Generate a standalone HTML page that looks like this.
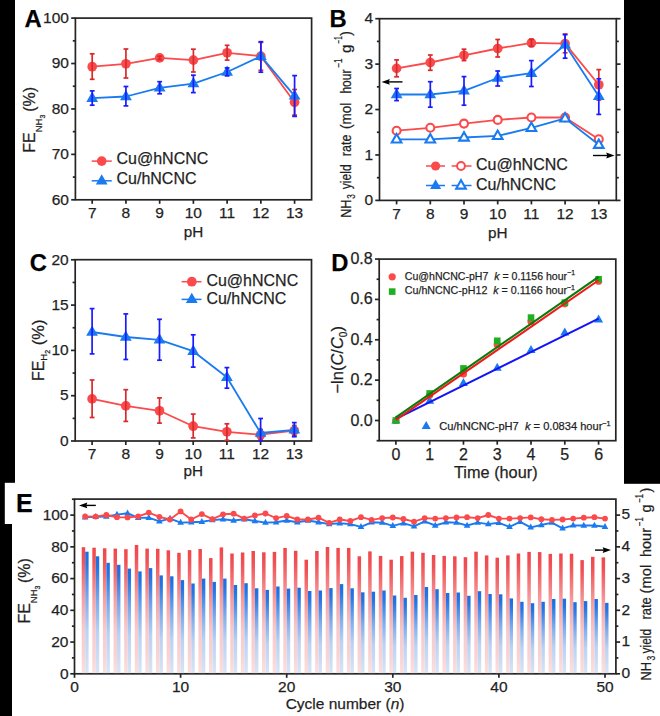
<!DOCTYPE html>
<html><head><meta charset="utf-8"><title>Figure</title>
<style>
html,body{margin:0;padding:0;background:#fff;}
body{width:660px;height:716px;overflow:hidden;}
svg{display:block;font-family:"Liberation Sans", sans-serif;}
svg text{stroke:#1f1f1f;stroke-width:0.25px;}
</style></head><body>
<svg width="660" height="716" viewBox="0 0 660 716">
<rect x="0" y="0" width="660" height="716" fill="#ffffff"/>
<rect x="0" y="0" width="15" height="482.8" fill="#000"/>
<rect x="0" y="482" width="4.8" height="43" fill="#000"/>
<rect x="0" y="524" width="12" height="193" fill="#000"/>
<rect x="624" y="0" width="36" height="483.8" fill="#000"/>
<g>
<rect x="75.4" y="18.1" width="236.2" height="181.7" fill="none" stroke="#242424" stroke-width="1.7"/>
<line x1="71.2" y1="199.8" x2="75.4" y2="199.8" stroke="#242424" stroke-width="1.7" />
<text x="68.9" y="204.5" font-size="15.5" text-anchor="end" font-weight="normal" fill="#1f1f1f" >60</text>
<line x1="71.2" y1="154.38" x2="75.4" y2="154.38" stroke="#242424" stroke-width="1.7" />
<text x="68.9" y="159.07" font-size="15.5" text-anchor="end" font-weight="normal" fill="#1f1f1f" >70</text>
<line x1="71.2" y1="108.95" x2="75.4" y2="108.95" stroke="#242424" stroke-width="1.7" />
<text x="68.9" y="113.65" font-size="15.5" text-anchor="end" font-weight="normal" fill="#1f1f1f" >80</text>
<line x1="71.2" y1="63.52" x2="75.4" y2="63.52" stroke="#242424" stroke-width="1.7" />
<text x="68.9" y="68.22" font-size="15.5" text-anchor="end" font-weight="normal" fill="#1f1f1f" >90</text>
<line x1="71.2" y1="18.1" x2="75.4" y2="18.1" stroke="#242424" stroke-width="1.7" />
<text x="68.9" y="22.8" font-size="15.5" text-anchor="end" font-weight="normal" fill="#1f1f1f" >100</text>
<line x1="72.8" y1="177.09" x2="75.4" y2="177.09" stroke="#242424" stroke-width="1.7" />
<line x1="72.8" y1="131.66" x2="75.4" y2="131.66" stroke="#242424" stroke-width="1.7" />
<line x1="72.8" y1="86.24" x2="75.4" y2="86.24" stroke="#242424" stroke-width="1.7" />
<line x1="72.8" y1="40.81" x2="75.4" y2="40.81" stroke="#242424" stroke-width="1.7" />
<line x1="92.2" y1="199.8" x2="92.2" y2="203.8" stroke="#242424" stroke-width="1.7" />
<text x="92.2" y="218" font-size="15.5" text-anchor="middle" font-weight="normal" fill="#1f1f1f" >7</text>
<line x1="125.93" y1="199.8" x2="125.93" y2="203.8" stroke="#242424" stroke-width="1.7" />
<text x="125.93" y="218" font-size="15.5" text-anchor="middle" font-weight="normal" fill="#1f1f1f" >8</text>
<line x1="159.66" y1="199.8" x2="159.66" y2="203.8" stroke="#242424" stroke-width="1.7" />
<text x="159.66" y="218" font-size="15.5" text-anchor="middle" font-weight="normal" fill="#1f1f1f" >9</text>
<line x1="193.39" y1="199.8" x2="193.39" y2="203.8" stroke="#242424" stroke-width="1.7" />
<text x="193.39" y="218" font-size="15.5" text-anchor="middle" font-weight="normal" fill="#1f1f1f" >10</text>
<line x1="227.12" y1="199.8" x2="227.12" y2="203.8" stroke="#242424" stroke-width="1.7" />
<text x="227.12" y="218" font-size="15.5" text-anchor="middle" font-weight="normal" fill="#1f1f1f" >11</text>
<line x1="260.85" y1="199.8" x2="260.85" y2="203.8" stroke="#242424" stroke-width="1.7" />
<text x="260.85" y="218" font-size="15.5" text-anchor="middle" font-weight="normal" fill="#1f1f1f" >12</text>
<line x1="294.58" y1="199.8" x2="294.58" y2="203.8" stroke="#242424" stroke-width="1.7" />
<text x="294.58" y="218" font-size="15.5" text-anchor="middle" font-weight="normal" fill="#1f1f1f" >13</text>
<text x="193.5" y="237" font-size="15.3" text-anchor="middle" font-weight="normal" fill="#1f1f1f" >pH</text>
<text x="24.6" y="27" font-size="23.8" text-anchor="start" font-weight="bold" fill="#000" >A</text>
<text transform="translate(35.3,152.8) rotate(-90)" font-size="16" fill="#1f1f1f">FE<tspan font-size="9.5" dy="6.8">NH<tspan font-size="7" dy="3">3</tspan></tspan><tspan dy="-9.8" dx="-1.5" font-size="16"> (%)</tspan></text>
<polyline points="92.2,66.7 125.93,63.8 159.66,57.9 193.39,60.1 227.12,52.8 260.85,56.2 294.58,102.3" fill="none" stroke="#fb4a4c" stroke-width="1.8" stroke-linejoin="round"/>
<circle cx="92.2" cy="66.7" r="4.85" fill="#fb4a4c"/>
<line x1="92.2" y1="53.8" x2="92.2" y2="79.3" stroke="#d62a2c" stroke-width="1.7" />
<line x1="89.8" y1="53.8" x2="94.6" y2="53.8" stroke="#d62a2c" stroke-width="1.7" />
<line x1="89.8" y1="79.3" x2="94.6" y2="79.3" stroke="#d62a2c" stroke-width="1.7" />
<circle cx="125.93" cy="63.8" r="4.85" fill="#fb4a4c"/>
<line x1="125.93" y1="49" x2="125.93" y2="78" stroke="#d62a2c" stroke-width="1.7" />
<line x1="123.53" y1="49" x2="128.33" y2="49" stroke="#d62a2c" stroke-width="1.7" />
<line x1="123.53" y1="78" x2="128.33" y2="78" stroke="#d62a2c" stroke-width="1.7" />
<circle cx="159.66" cy="57.9" r="4.85" fill="#fb4a4c"/>
<line x1="159.66" y1="56.2" x2="159.66" y2="59.6" stroke="#d62a2c" stroke-width="1.7" />
<line x1="157.26" y1="56.2" x2="162.06" y2="56.2" stroke="#d62a2c" stroke-width="1.7" />
<line x1="157.26" y1="59.6" x2="162.06" y2="59.6" stroke="#d62a2c" stroke-width="1.7" />
<circle cx="193.39" cy="60.1" r="4.85" fill="#fb4a4c"/>
<line x1="193.39" y1="49.2" x2="193.39" y2="72" stroke="#d62a2c" stroke-width="1.7" />
<line x1="190.99" y1="49.2" x2="195.79" y2="49.2" stroke="#d62a2c" stroke-width="1.7" />
<line x1="190.99" y1="72" x2="195.79" y2="72" stroke="#d62a2c" stroke-width="1.7" />
<circle cx="227.12" cy="52.8" r="4.85" fill="#fb4a4c"/>
<line x1="227.12" y1="45.3" x2="227.12" y2="60.1" stroke="#d62a2c" stroke-width="1.7" />
<line x1="224.72" y1="45.3" x2="229.52" y2="45.3" stroke="#d62a2c" stroke-width="1.7" />
<line x1="224.72" y1="60.1" x2="229.52" y2="60.1" stroke="#d62a2c" stroke-width="1.7" />
<circle cx="260.85" cy="56.2" r="4.85" fill="#fb4a4c"/>
<line x1="260.85" y1="42.4" x2="260.85" y2="70.3" stroke="#d62a2c" stroke-width="1.7" />
<line x1="258.45" y1="42.4" x2="263.25" y2="42.4" stroke="#d62a2c" stroke-width="1.7" />
<line x1="258.45" y1="70.3" x2="263.25" y2="70.3" stroke="#d62a2c" stroke-width="1.7" />
<circle cx="294.58" cy="102.3" r="4.85" fill="#fb4a4c"/>
<line x1="294.58" y1="89.5" x2="294.58" y2="115.1" stroke="#d62a2c" stroke-width="1.7" />
<line x1="292.18" y1="89.5" x2="296.98" y2="89.5" stroke="#d62a2c" stroke-width="1.7" />
<line x1="292.18" y1="115.1" x2="296.98" y2="115.1" stroke="#d62a2c" stroke-width="1.7" />
<polyline points="92.2,98.2 125.93,96.5 159.66,87.8 193.39,83.6 227.12,72 260.85,56.2 294.58,95.8" fill="none" stroke="#1a7af0" stroke-width="1.8" stroke-linejoin="round"/>
<polygon points="92.2,91.6 86.3,101.9 98.1,101.9" fill="#1a7af0"/>
<line x1="92.2" y1="90.9" x2="92.2" y2="105.2" stroke="#1a1aff" stroke-width="1.7" />
<line x1="89.8" y1="90.9" x2="94.6" y2="90.9" stroke="#1a1aff" stroke-width="1.7" />
<line x1="89.8" y1="105.2" x2="94.6" y2="105.2" stroke="#1a1aff" stroke-width="1.7" />
<polygon points="125.93,89.9 120.03,100.2 131.83,100.2" fill="#1a7af0"/>
<line x1="125.93" y1="86.5" x2="125.93" y2="105.9" stroke="#1a1aff" stroke-width="1.7" />
<line x1="123.53" y1="86.5" x2="128.33" y2="86.5" stroke="#1a1aff" stroke-width="1.7" />
<line x1="123.53" y1="105.9" x2="128.33" y2="105.9" stroke="#1a1aff" stroke-width="1.7" />
<polygon points="159.66,81.2 153.76,91.5 165.56,91.5" fill="#1a7af0"/>
<line x1="159.66" y1="81.7" x2="159.66" y2="93.8" stroke="#1a1aff" stroke-width="1.7" />
<line x1="157.26" y1="81.7" x2="162.06" y2="81.7" stroke="#1a1aff" stroke-width="1.7" />
<line x1="157.26" y1="93.8" x2="162.06" y2="93.8" stroke="#1a1aff" stroke-width="1.7" />
<polygon points="193.39,77 187.49,87.3 199.29,87.3" fill="#1a7af0"/>
<line x1="193.39" y1="75.2" x2="193.39" y2="92.6" stroke="#1a1aff" stroke-width="1.7" />
<line x1="190.99" y1="75.2" x2="195.79" y2="75.2" stroke="#1a1aff" stroke-width="1.7" />
<line x1="190.99" y1="92.6" x2="195.79" y2="92.6" stroke="#1a1aff" stroke-width="1.7" />
<polygon points="227.12,65.4 221.22,75.7 233.02,75.7" fill="#1a7af0"/>
<line x1="227.12" y1="67.9" x2="227.12" y2="75.9" stroke="#1a1aff" stroke-width="1.7" />
<line x1="224.72" y1="67.9" x2="229.52" y2="67.9" stroke="#1a1aff" stroke-width="1.7" />
<line x1="224.72" y1="75.9" x2="229.52" y2="75.9" stroke="#1a1aff" stroke-width="1.7" />
<polygon points="260.85,49.6 254.95,59.9 266.75,59.9" fill="#1a7af0"/>
<line x1="260.85" y1="41.7" x2="260.85" y2="72.2" stroke="#1a1aff" stroke-width="1.7" />
<line x1="258.45" y1="41.7" x2="263.25" y2="41.7" stroke="#1a1aff" stroke-width="1.7" />
<line x1="258.45" y1="72.2" x2="263.25" y2="72.2" stroke="#1a1aff" stroke-width="1.7" />
<polygon points="294.58,89.2 288.68,99.5 300.48,99.5" fill="#1a7af0"/>
<line x1="294.58" y1="75.6" x2="294.58" y2="116.4" stroke="#1a1aff" stroke-width="1.7" />
<line x1="292.18" y1="75.6" x2="296.98" y2="75.6" stroke="#1a1aff" stroke-width="1.7" />
<line x1="292.18" y1="116.4" x2="296.98" y2="116.4" stroke="#1a1aff" stroke-width="1.7" />
<line x1="91.7" y1="161.1" x2="111.8" y2="161.1" stroke="#fb4a4c" stroke-width="1.5" />
<circle cx="101.7" cy="161.1" r="4.85" fill="#fb4a4c"/>
<line x1="91.7" y1="180.8" x2="111.8" y2="180.8" stroke="#1a7af0" stroke-width="1.5" />
<polygon points="101.7,174.2 95.8,184.5 107.6,184.5" fill="#1a7af0"/>
<text x="116.5" y="164.1" font-size="16" text-anchor="start" font-weight="normal" fill="#1f1f1f" >Cu@hNCNC</text>
<text x="116.5" y="183.8" font-size="16" text-anchor="start" font-weight="normal" fill="#1f1f1f" >Cu/hNCNC</text>
<rect x="379.5" y="18.7" width="236.8" height="181.7" fill="none" stroke="#242424" stroke-width="1.7"/>
<line x1="375.3" y1="200.4" x2="379.5" y2="200.4" stroke="#242424" stroke-width="1.7" />
<line x1="616.3" y1="200.4" x2="620.5" y2="200.4" stroke="#242424" stroke-width="1.7" />
<text x="373" y="205.1" font-size="15.5" text-anchor="end" font-weight="normal" fill="#1f1f1f" >0</text>
<line x1="375.3" y1="154.97" x2="379.5" y2="154.97" stroke="#242424" stroke-width="1.7" />
<line x1="616.3" y1="154.97" x2="620.5" y2="154.97" stroke="#242424" stroke-width="1.7" />
<text x="373" y="159.67" font-size="15.5" text-anchor="end" font-weight="normal" fill="#1f1f1f" >1</text>
<line x1="375.3" y1="109.55" x2="379.5" y2="109.55" stroke="#242424" stroke-width="1.7" />
<line x1="616.3" y1="109.55" x2="620.5" y2="109.55" stroke="#242424" stroke-width="1.7" />
<text x="373" y="114.25" font-size="15.5" text-anchor="end" font-weight="normal" fill="#1f1f1f" >2</text>
<line x1="375.3" y1="64.12" x2="379.5" y2="64.12" stroke="#242424" stroke-width="1.7" />
<line x1="616.3" y1="64.12" x2="620.5" y2="64.12" stroke="#242424" stroke-width="1.7" />
<text x="373" y="68.83" font-size="15.5" text-anchor="end" font-weight="normal" fill="#1f1f1f" >3</text>
<line x1="375.3" y1="18.7" x2="379.5" y2="18.7" stroke="#242424" stroke-width="1.7" />
<line x1="616.3" y1="18.7" x2="620.5" y2="18.7" stroke="#242424" stroke-width="1.7" />
<text x="373" y="23.4" font-size="15.5" text-anchor="end" font-weight="normal" fill="#1f1f1f" >4</text>
<line x1="376.9" y1="177.69" x2="379.5" y2="177.69" stroke="#242424" stroke-width="1.7" />
<line x1="616.3" y1="177.69" x2="618.8" y2="177.69" stroke="#242424" stroke-width="1.7" />
<line x1="376.9" y1="132.26" x2="379.5" y2="132.26" stroke="#242424" stroke-width="1.7" />
<line x1="616.3" y1="132.26" x2="618.8" y2="132.26" stroke="#242424" stroke-width="1.7" />
<line x1="376.9" y1="86.84" x2="379.5" y2="86.84" stroke="#242424" stroke-width="1.7" />
<line x1="616.3" y1="86.84" x2="618.8" y2="86.84" stroke="#242424" stroke-width="1.7" />
<line x1="376.9" y1="41.41" x2="379.5" y2="41.41" stroke="#242424" stroke-width="1.7" />
<line x1="616.3" y1="41.41" x2="618.8" y2="41.41" stroke="#242424" stroke-width="1.7" />
<line x1="396.6" y1="200.4" x2="396.6" y2="204.4" stroke="#242424" stroke-width="1.7" />
<text x="396.6" y="218.8" font-size="15.5" text-anchor="middle" font-weight="normal" fill="#1f1f1f" >7</text>
<line x1="430.3" y1="200.4" x2="430.3" y2="204.4" stroke="#242424" stroke-width="1.7" />
<text x="430.3" y="218.8" font-size="15.5" text-anchor="middle" font-weight="normal" fill="#1f1f1f" >8</text>
<line x1="464" y1="200.4" x2="464" y2="204.4" stroke="#242424" stroke-width="1.7" />
<text x="464" y="218.8" font-size="15.5" text-anchor="middle" font-weight="normal" fill="#1f1f1f" >9</text>
<line x1="497.7" y1="200.4" x2="497.7" y2="204.4" stroke="#242424" stroke-width="1.7" />
<text x="497.7" y="218.8" font-size="15.5" text-anchor="middle" font-weight="normal" fill="#1f1f1f" >10</text>
<line x1="531.4" y1="200.4" x2="531.4" y2="204.4" stroke="#242424" stroke-width="1.7" />
<text x="531.4" y="218.8" font-size="15.5" text-anchor="middle" font-weight="normal" fill="#1f1f1f" >11</text>
<line x1="565.1" y1="200.4" x2="565.1" y2="204.4" stroke="#242424" stroke-width="1.7" />
<text x="565.1" y="218.8" font-size="15.5" text-anchor="middle" font-weight="normal" fill="#1f1f1f" >12</text>
<line x1="598.8" y1="200.4" x2="598.8" y2="204.4" stroke="#242424" stroke-width="1.7" />
<text x="598.8" y="218.8" font-size="15.5" text-anchor="middle" font-weight="normal" fill="#1f1f1f" >13</text>
<text x="497.9" y="237.5" font-size="15.3" text-anchor="middle" font-weight="normal" fill="#1f1f1f" >pH</text>
<text x="329.5" y="26.6" font-size="23.8" text-anchor="start" font-weight="bold" fill="#000" >B</text>
<text transform="translate(350.5,217.8) rotate(-90)" font-size="15" fill="#1f1f1f" textLength="18.3" lengthAdjust="spacingAndGlyphs">NH</text>
<text transform="translate(355,198.8) rotate(-90)" font-size="10.5" fill="#1f1f1f" textLength="4.6" lengthAdjust="spacingAndGlyphs">3</text>
<text transform="translate(350.5,189.2) rotate(-90)" font-size="15" fill="#1f1f1f" textLength="24.8" lengthAdjust="spacingAndGlyphs">yield</text>
<text transform="translate(350.5,156.3) rotate(-90)" font-size="15" fill="#1f1f1f" textLength="21.7" lengthAdjust="spacingAndGlyphs">rate</text>
<text transform="translate(350.5,129) rotate(-90)" font-size="15" fill="#1f1f1f" textLength="26.2" lengthAdjust="spacingAndGlyphs">(mol</text>
<text transform="translate(350.5,93.6) rotate(-90)" font-size="15" fill="#1f1f1f" textLength="24.1" lengthAdjust="spacingAndGlyphs">hour</text>
<text transform="translate(342.2,67.6) rotate(-90)" font-size="10" fill="#1f1f1f" textLength="9.1" lengthAdjust="spacingAndGlyphs">−1</text>
<text transform="translate(350.5,53) rotate(-90)" font-size="15" fill="#1f1f1f" textLength="8.4" lengthAdjust="spacingAndGlyphs">g</text>
<text transform="translate(342.2,43.4) rotate(-90)" font-size="10" fill="#1f1f1f" textLength="7.1" lengthAdjust="spacingAndGlyphs">−1</text>
<text transform="translate(350.5,35.8) rotate(-90)" font-size="15" fill="#1f1f1f" textLength="4.6" lengthAdjust="spacingAndGlyphs">)</text>
<polyline points="396.6,68.4 430.3,62.5 464,55.3 497.7,48.5 531.4,42.9 565.1,43.6 598.8,84.8" fill="none" stroke="#fb4a4c" stroke-width="1.8" stroke-linejoin="round"/>
<circle cx="396.6" cy="68.4" r="4.85" fill="#fb4a4c"/>
<line x1="396.6" y1="59.9" x2="396.6" y2="76.8" stroke="#d62a2c" stroke-width="1.7" />
<line x1="394.2" y1="59.9" x2="399" y2="59.9" stroke="#d62a2c" stroke-width="1.7" />
<line x1="394.2" y1="76.8" x2="399" y2="76.8" stroke="#d62a2c" stroke-width="1.7" />
<circle cx="430.3" cy="62.5" r="4.85" fill="#fb4a4c"/>
<line x1="430.3" y1="55" x2="430.3" y2="70.3" stroke="#d62a2c" stroke-width="1.7" />
<line x1="427.9" y1="55" x2="432.7" y2="55" stroke="#d62a2c" stroke-width="1.7" />
<line x1="427.9" y1="70.3" x2="432.7" y2="70.3" stroke="#d62a2c" stroke-width="1.7" />
<circle cx="464" cy="55.3" r="4.85" fill="#fb4a4c"/>
<line x1="464" y1="49.2" x2="464" y2="60.6" stroke="#d62a2c" stroke-width="1.7" />
<line x1="461.6" y1="49.2" x2="466.4" y2="49.2" stroke="#d62a2c" stroke-width="1.7" />
<line x1="461.6" y1="60.6" x2="466.4" y2="60.6" stroke="#d62a2c" stroke-width="1.7" />
<circle cx="497.7" cy="48.5" r="4.85" fill="#fb4a4c"/>
<line x1="497.7" y1="39.5" x2="497.7" y2="57" stroke="#d62a2c" stroke-width="1.7" />
<line x1="495.3" y1="39.5" x2="500.1" y2="39.5" stroke="#d62a2c" stroke-width="1.7" />
<line x1="495.3" y1="57" x2="500.1" y2="57" stroke="#d62a2c" stroke-width="1.7" />
<circle cx="531.4" cy="42.9" r="4.85" fill="#fb4a4c"/>
<line x1="531.4" y1="39.3" x2="531.4" y2="46.5" stroke="#d62a2c" stroke-width="1.7" />
<line x1="529" y1="39.3" x2="533.8" y2="39.3" stroke="#d62a2c" stroke-width="1.7" />
<line x1="529" y1="46.5" x2="533.8" y2="46.5" stroke="#d62a2c" stroke-width="1.7" />
<circle cx="565.1" cy="43.6" r="4.85" fill="#fb4a4c"/>
<line x1="565.1" y1="34" x2="565.1" y2="52.8" stroke="#d62a2c" stroke-width="1.7" />
<line x1="562.7" y1="34" x2="567.5" y2="34" stroke="#d62a2c" stroke-width="1.7" />
<line x1="562.7" y1="52.8" x2="567.5" y2="52.8" stroke="#d62a2c" stroke-width="1.7" />
<circle cx="598.8" cy="84.8" r="4.85" fill="#fb4a4c"/>
<line x1="598.8" y1="69.6" x2="598.8" y2="100" stroke="#d62a2c" stroke-width="1.7" />
<line x1="596.4" y1="69.6" x2="601.2" y2="69.6" stroke="#d62a2c" stroke-width="1.7" />
<line x1="596.4" y1="100" x2="601.2" y2="100" stroke="#d62a2c" stroke-width="1.7" />
<polyline points="396.6,94.5 430.3,94.5 464,90.9 497.7,78 531.4,73.2 565.1,44.8 598.8,96.2" fill="none" stroke="#1a7af0" stroke-width="1.8" stroke-linejoin="round"/>
<polygon points="396.6,87.9 390.7,98.2 402.5,98.2" fill="#1a7af0"/>
<line x1="396.6" y1="88.5" x2="396.6" y2="100.6" stroke="#1a1aff" stroke-width="1.7" />
<line x1="394.2" y1="88.5" x2="399" y2="88.5" stroke="#1a1aff" stroke-width="1.7" />
<line x1="394.2" y1="100.6" x2="399" y2="100.6" stroke="#1a1aff" stroke-width="1.7" />
<polygon points="430.3,87.9 424.4,98.2 436.2,98.2" fill="#1a7af0"/>
<line x1="430.3" y1="81.7" x2="430.3" y2="107.2" stroke="#1a1aff" stroke-width="1.7" />
<line x1="427.9" y1="81.7" x2="432.7" y2="81.7" stroke="#1a1aff" stroke-width="1.7" />
<line x1="427.9" y1="107.2" x2="432.7" y2="107.2" stroke="#1a1aff" stroke-width="1.7" />
<polygon points="464,84.3 458.1,94.6 469.9,94.6" fill="#1a7af0"/>
<line x1="464" y1="76.6" x2="464" y2="105.2" stroke="#1a1aff" stroke-width="1.7" />
<line x1="461.6" y1="76.6" x2="466.4" y2="76.6" stroke="#1a1aff" stroke-width="1.7" />
<line x1="461.6" y1="105.2" x2="466.4" y2="105.2" stroke="#1a1aff" stroke-width="1.7" />
<polygon points="497.7,71.4 491.8,81.7 503.6,81.7" fill="#1a7af0"/>
<line x1="497.7" y1="71" x2="497.7" y2="86" stroke="#1a1aff" stroke-width="1.7" />
<line x1="495.3" y1="71" x2="500.1" y2="71" stroke="#1a1aff" stroke-width="1.7" />
<line x1="495.3" y1="86" x2="500.1" y2="86" stroke="#1a1aff" stroke-width="1.7" />
<polygon points="531.4,66.6 525.5,76.9 537.3,76.9" fill="#1a7af0"/>
<line x1="531.4" y1="60.6" x2="531.4" y2="86.5" stroke="#1a1aff" stroke-width="1.7" />
<line x1="529" y1="60.6" x2="533.8" y2="60.6" stroke="#1a1aff" stroke-width="1.7" />
<line x1="529" y1="86.5" x2="533.8" y2="86.5" stroke="#1a1aff" stroke-width="1.7" />
<polygon points="565.1,38.2 559.2,48.5 571,48.5" fill="#1a7af0"/>
<line x1="565.1" y1="34.7" x2="565.1" y2="58.2" stroke="#1a1aff" stroke-width="1.7" />
<line x1="562.7" y1="34.7" x2="567.5" y2="34.7" stroke="#1a1aff" stroke-width="1.7" />
<line x1="562.7" y1="58.2" x2="567.5" y2="58.2" stroke="#1a1aff" stroke-width="1.7" />
<polygon points="598.8,89.6 592.9,99.9 604.7,99.9" fill="#1a7af0"/>
<line x1="598.8" y1="78.8" x2="598.8" y2="114.4" stroke="#1a1aff" stroke-width="1.7" />
<line x1="596.4" y1="78.8" x2="601.2" y2="78.8" stroke="#1a1aff" stroke-width="1.7" />
<line x1="596.4" y1="114.4" x2="601.2" y2="114.4" stroke="#1a1aff" stroke-width="1.7" />
<polyline points="396.6,130.7 430.3,127.8 464,123.6 497.7,119.9 531.4,117.5 565.1,117.5 598.8,139.3" fill="none" stroke="#fb4a4c" stroke-width="1.8" stroke-linejoin="round"/>
<circle cx="396.6" cy="130.7" r="4.0" fill="#fff" stroke="#fb4a4c" stroke-width="2.1"/>
<circle cx="430.3" cy="127.8" r="4.0" fill="#fff" stroke="#fb4a4c" stroke-width="2.1"/>
<circle cx="464" cy="123.6" r="4.0" fill="#fff" stroke="#fb4a4c" stroke-width="2.1"/>
<circle cx="497.7" cy="119.9" r="4.0" fill="#fff" stroke="#fb4a4c" stroke-width="2.1"/>
<circle cx="531.4" cy="117.5" r="4.0" fill="#fff" stroke="#fb4a4c" stroke-width="2.1"/>
<circle cx="565.1" cy="117.5" r="4.0" fill="#fff" stroke="#fb4a4c" stroke-width="2.1"/>
<circle cx="598.8" cy="139.3" r="4.0" fill="#fff" stroke="#fb4a4c" stroke-width="2.1"/>
<polyline points="396.6,139.4 430.3,139.4 464,137.5 497.7,135.9 531.4,127.9 565.1,118.4 598.8,144.8" fill="none" stroke="#1a7af0" stroke-width="1.8" stroke-linejoin="round"/>
<polygon points="396.6,134.1 391.8,142.5 401.4,142.5" fill="#fff" stroke="#1a7af0" stroke-width="2.1" stroke-linejoin="miter"/>
<polygon points="430.3,134.1 425.5,142.5 435.1,142.5" fill="#fff" stroke="#1a7af0" stroke-width="2.1" stroke-linejoin="miter"/>
<polygon points="464,132.2 459.2,140.6 468.8,140.6" fill="#fff" stroke="#1a7af0" stroke-width="2.1" stroke-linejoin="miter"/>
<polygon points="497.7,130.6 492.9,139 502.5,139" fill="#fff" stroke="#1a7af0" stroke-width="2.1" stroke-linejoin="miter"/>
<polygon points="531.4,122.6 526.6,131 536.2,131" fill="#fff" stroke="#1a7af0" stroke-width="2.1" stroke-linejoin="miter"/>
<polygon points="565.1,113.1 560.3,121.5 569.9,121.5" fill="#fff" stroke="#1a7af0" stroke-width="2.1" stroke-linejoin="miter"/>
<polygon points="598.8,139.5 594,147.9 603.6,147.9" fill="#fff" stroke="#1a7af0" stroke-width="2.1" stroke-linejoin="miter"/>
<line x1="402.5" y1="81.9" x2="385.5" y2="81.9" stroke="#000" stroke-width="1.4" />
<polygon points="381.5,81.9 389.8,79 388.8,81.9 389.8,84.8" fill="#000"/>
<line x1="593" y1="155.5" x2="610.5" y2="155.5" stroke="#000" stroke-width="1.4" />
<polygon points="614.5,155.5 606.2,152.6 607.2,155.5 606.2,158.4" fill="#000"/>
<line x1="426" y1="166" x2="445" y2="166" stroke="#fb4a4c" stroke-width="1.5" />
<circle cx="435.6" cy="166" r="4.6" fill="#fb4a4c"/>
<line x1="451.6" y1="166" x2="471.5" y2="166" stroke="#fb4a4c" stroke-width="1.5" />
<circle cx="461" cy="166" r="3.9" fill="#fff" stroke="#fb4a4c" stroke-width="2.0"/>
<line x1="426" y1="185.5" x2="445" y2="185.5" stroke="#1a7af0" stroke-width="1.5" />
<polygon points="435.6,179.3 430.1,188.9 441.1,188.9" fill="#1a7af0"/>
<line x1="451.6" y1="185.5" x2="471.5" y2="185.5" stroke="#1a7af0" stroke-width="1.5" />
<polygon points="461,180.2 456.2,188.6 465.8,188.6" fill="#fff" stroke="#1a7af0" stroke-width="2.1" stroke-linejoin="miter"/>
<text x="476" y="169.5" font-size="16" text-anchor="start" font-weight="normal" fill="#1f1f1f" >Cu@hNCNC</text>
<text x="476" y="189.5" font-size="16" text-anchor="start" font-weight="normal" fill="#1f1f1f" >Cu/hNCNC</text>
<rect x="75.2" y="259.7" width="236.3" height="181.3" fill="none" stroke="#242424" stroke-width="1.7"/>
<line x1="71" y1="441" x2="75.2" y2="441" stroke="#242424" stroke-width="1.7" />
<text x="68.7" y="445.7" font-size="15.5" text-anchor="end" font-weight="normal" fill="#1f1f1f" >0</text>
<line x1="71" y1="395.7" x2="75.2" y2="395.7" stroke="#242424" stroke-width="1.7" />
<text x="68.7" y="400.4" font-size="15.5" text-anchor="end" font-weight="normal" fill="#1f1f1f" >5</text>
<line x1="71" y1="350.4" x2="75.2" y2="350.4" stroke="#242424" stroke-width="1.7" />
<text x="68.7" y="355.1" font-size="15.5" text-anchor="end" font-weight="normal" fill="#1f1f1f" >10</text>
<line x1="71" y1="305.1" x2="75.2" y2="305.1" stroke="#242424" stroke-width="1.7" />
<text x="68.7" y="309.8" font-size="15.5" text-anchor="end" font-weight="normal" fill="#1f1f1f" >15</text>
<line x1="71" y1="259.8" x2="75.2" y2="259.8" stroke="#242424" stroke-width="1.7" />
<text x="68.7" y="264.5" font-size="15.5" text-anchor="end" font-weight="normal" fill="#1f1f1f" >20</text>
<line x1="72.6" y1="418.35" x2="75.2" y2="418.35" stroke="#242424" stroke-width="1.7" />
<line x1="72.6" y1="373.05" x2="75.2" y2="373.05" stroke="#242424" stroke-width="1.7" />
<line x1="72.6" y1="327.75" x2="75.2" y2="327.75" stroke="#242424" stroke-width="1.7" />
<line x1="72.6" y1="282.45" x2="75.2" y2="282.45" stroke="#242424" stroke-width="1.7" />
<line x1="92.1" y1="441" x2="92.1" y2="445" stroke="#242424" stroke-width="1.7" />
<text x="92.1" y="459.2" font-size="15.5" text-anchor="middle" font-weight="normal" fill="#1f1f1f" >7</text>
<line x1="125.8" y1="441" x2="125.8" y2="445" stroke="#242424" stroke-width="1.7" />
<text x="125.8" y="459.2" font-size="15.5" text-anchor="middle" font-weight="normal" fill="#1f1f1f" >8</text>
<line x1="159.5" y1="441" x2="159.5" y2="445" stroke="#242424" stroke-width="1.7" />
<text x="159.5" y="459.2" font-size="15.5" text-anchor="middle" font-weight="normal" fill="#1f1f1f" >9</text>
<line x1="193.2" y1="441" x2="193.2" y2="445" stroke="#242424" stroke-width="1.7" />
<text x="193.2" y="459.2" font-size="15.5" text-anchor="middle" font-weight="normal" fill="#1f1f1f" >10</text>
<line x1="226.9" y1="441" x2="226.9" y2="445" stroke="#242424" stroke-width="1.7" />
<text x="226.9" y="459.2" font-size="15.5" text-anchor="middle" font-weight="normal" fill="#1f1f1f" >11</text>
<line x1="260.6" y1="441" x2="260.6" y2="445" stroke="#242424" stroke-width="1.7" />
<text x="260.6" y="459.2" font-size="15.5" text-anchor="middle" font-weight="normal" fill="#1f1f1f" >12</text>
<line x1="294.3" y1="441" x2="294.3" y2="445" stroke="#242424" stroke-width="1.7" />
<text x="294.3" y="459.2" font-size="15.5" text-anchor="middle" font-weight="normal" fill="#1f1f1f" >13</text>
<text x="193.35" y="475.7" font-size="15.3" text-anchor="middle" font-weight="normal" fill="#1f1f1f" >pH</text>
<text x="29.8" y="271.3" font-size="23.8" text-anchor="start" font-weight="bold" fill="#000" >C</text>
<text transform="translate(44,381.1) rotate(-90)" font-size="16" fill="#1f1f1f">FE<tspan font-size="9.5" dy="3.0">H<tspan font-size="7" dy="2.5">2</tspan></tspan><tspan dy="-5.5" font-size="16.5"> (%)</tspan></text>
<polyline points="92.1,398.9 125.8,405.9 159.5,410.8 193.2,426.2 226.9,431.8 260.6,434.7 294.3,430.6" fill="none" stroke="#fb4a4c" stroke-width="1.8" stroke-linejoin="round"/>
<circle cx="92.1" cy="398.9" r="4.85" fill="#fb4a4c"/>
<line x1="92.1" y1="380" x2="92.1" y2="417.5" stroke="#d62a2c" stroke-width="1.7" />
<line x1="89.7" y1="380" x2="94.5" y2="380" stroke="#d62a2c" stroke-width="1.7" />
<line x1="89.7" y1="417.5" x2="94.5" y2="417.5" stroke="#d62a2c" stroke-width="1.7" />
<circle cx="125.8" cy="405.9" r="4.85" fill="#fb4a4c"/>
<line x1="125.8" y1="389.7" x2="125.8" y2="421.4" stroke="#d62a2c" stroke-width="1.7" />
<line x1="123.4" y1="389.7" x2="128.2" y2="389.7" stroke="#d62a2c" stroke-width="1.7" />
<line x1="123.4" y1="421.4" x2="128.2" y2="421.4" stroke="#d62a2c" stroke-width="1.7" />
<circle cx="159.5" cy="410.8" r="4.85" fill="#fb4a4c"/>
<line x1="159.5" y1="397.9" x2="159.5" y2="423.1" stroke="#d62a2c" stroke-width="1.7" />
<line x1="157.1" y1="397.9" x2="161.9" y2="397.9" stroke="#d62a2c" stroke-width="1.7" />
<line x1="157.1" y1="423.1" x2="161.9" y2="423.1" stroke="#d62a2c" stroke-width="1.7" />
<circle cx="193.2" cy="426.2" r="4.85" fill="#fb4a4c"/>
<line x1="193.2" y1="414.1" x2="193.2" y2="437.9" stroke="#d62a2c" stroke-width="1.7" />
<line x1="190.8" y1="414.1" x2="195.6" y2="414.1" stroke="#d62a2c" stroke-width="1.7" />
<line x1="190.8" y1="437.9" x2="195.6" y2="437.9" stroke="#d62a2c" stroke-width="1.7" />
<circle cx="226.9" cy="431.8" r="4.85" fill="#fb4a4c"/>
<line x1="226.9" y1="423.8" x2="226.9" y2="440.3" stroke="#d62a2c" stroke-width="1.7" />
<line x1="224.5" y1="423.8" x2="229.3" y2="423.8" stroke="#d62a2c" stroke-width="1.7" />
<line x1="224.5" y1="440.3" x2="229.3" y2="440.3" stroke="#d62a2c" stroke-width="1.7" />
<circle cx="260.6" cy="434.7" r="4.85" fill="#fb4a4c"/>
<line x1="260.6" y1="429.5" x2="260.6" y2="439.9" stroke="#d62a2c" stroke-width="1.7" />
<line x1="258.2" y1="429.5" x2="263" y2="429.5" stroke="#d62a2c" stroke-width="1.7" />
<line x1="258.2" y1="439.9" x2="263" y2="439.9" stroke="#d62a2c" stroke-width="1.7" />
<circle cx="294.3" cy="430.6" r="4.85" fill="#fb4a4c"/>
<line x1="294.3" y1="425.5" x2="294.3" y2="435.7" stroke="#d62a2c" stroke-width="1.7" />
<line x1="291.9" y1="425.5" x2="296.7" y2="425.5" stroke="#d62a2c" stroke-width="1.7" />
<line x1="291.9" y1="435.7" x2="296.7" y2="435.7" stroke="#d62a2c" stroke-width="1.7" />
<polyline points="92.1,332 125.8,337 159.5,339.9 193.2,351.2 226.9,377.3 260.6,433 294.3,429.9" fill="none" stroke="#1a7af0" stroke-width="1.8" stroke-linejoin="round"/>
<polygon points="92.1,325.4 86.2,335.7 98,335.7" fill="#1a7af0"/>
<line x1="92.1" y1="308.6" x2="92.1" y2="353.9" stroke="#1a1aff" stroke-width="1.7" />
<line x1="89.7" y1="308.6" x2="94.5" y2="308.6" stroke="#1a1aff" stroke-width="1.7" />
<line x1="89.7" y1="353.9" x2="94.5" y2="353.9" stroke="#1a1aff" stroke-width="1.7" />
<polygon points="125.8,330.4 119.9,340.7 131.7,340.7" fill="#1a7af0"/>
<line x1="125.8" y1="313.9" x2="125.8" y2="359.5" stroke="#1a1aff" stroke-width="1.7" />
<line x1="123.4" y1="313.9" x2="128.2" y2="313.9" stroke="#1a1aff" stroke-width="1.7" />
<line x1="123.4" y1="359.5" x2="128.2" y2="359.5" stroke="#1a1aff" stroke-width="1.7" />
<polygon points="159.5,333.3 153.6,343.6 165.4,343.6" fill="#1a7af0"/>
<line x1="159.5" y1="319.3" x2="159.5" y2="360.2" stroke="#1a1aff" stroke-width="1.7" />
<line x1="157.1" y1="319.3" x2="161.9" y2="319.3" stroke="#1a1aff" stroke-width="1.7" />
<line x1="157.1" y1="360.2" x2="161.9" y2="360.2" stroke="#1a1aff" stroke-width="1.7" />
<polygon points="193.2,344.6 187.3,354.9 199.1,354.9" fill="#1a7af0"/>
<line x1="193.2" y1="334.8" x2="193.2" y2="367.1" stroke="#1a1aff" stroke-width="1.7" />
<line x1="190.8" y1="334.8" x2="195.6" y2="334.8" stroke="#1a1aff" stroke-width="1.7" />
<line x1="190.8" y1="367.1" x2="195.6" y2="367.1" stroke="#1a1aff" stroke-width="1.7" />
<polygon points="226.9,370.7 221,381 232.8,381" fill="#1a7af0"/>
<line x1="226.9" y1="367.6" x2="226.9" y2="388.2" stroke="#1a1aff" stroke-width="1.7" />
<line x1="224.5" y1="367.6" x2="229.3" y2="367.6" stroke="#1a1aff" stroke-width="1.7" />
<line x1="224.5" y1="388.2" x2="229.3" y2="388.2" stroke="#1a1aff" stroke-width="1.7" />
<polygon points="260.6,426.4 254.7,436.7 266.5,436.7" fill="#1a7af0"/>
<line x1="260.6" y1="418.5" x2="260.6" y2="441" stroke="#1a1aff" stroke-width="1.7" />
<line x1="258.2" y1="418.5" x2="263" y2="418.5" stroke="#1a1aff" stroke-width="1.7" />
<line x1="258.2" y1="441" x2="263" y2="441" stroke="#1a1aff" stroke-width="1.7" />
<polygon points="294.3,423.3 288.4,433.6 300.2,433.6" fill="#1a7af0"/>
<line x1="294.3" y1="422.6" x2="294.3" y2="436.7" stroke="#1a1aff" stroke-width="1.7" />
<line x1="291.9" y1="422.6" x2="296.7" y2="422.6" stroke="#1a1aff" stroke-width="1.7" />
<line x1="291.9" y1="436.7" x2="296.7" y2="436.7" stroke="#1a1aff" stroke-width="1.7" />
<line x1="181.6" y1="281.7" x2="201.5" y2="281.7" stroke="#fb4a4c" stroke-width="1.5" />
<circle cx="191.8" cy="281.7" r="4.85" fill="#fb4a4c"/>
<line x1="181.6" y1="299.4" x2="201.5" y2="299.4" stroke="#1a7af0" stroke-width="1.5" />
<polygon points="191.8,292.8 185.9,303.1 197.7,303.1" fill="#1a7af0"/>
<text x="206.4" y="285.5" font-size="16" text-anchor="start" font-weight="normal" fill="#1f1f1f" >Cu@hNCNC</text>
<text x="206.4" y="304" font-size="16" text-anchor="start" font-weight="normal" fill="#1f1f1f" >Cu/hNCNC</text>
<rect x="379.2" y="259.1" width="236.6" height="181.6" fill="none" stroke="#242424" stroke-width="1.7"/>
<line x1="375" y1="420.5" x2="379.2" y2="420.5" stroke="#242424" stroke-width="1.7" />
<text x="372.7" y="425.5" font-size="16" text-anchor="end" font-weight="normal" fill="#1f1f1f" >0.0</text>
<line x1="375" y1="380.14" x2="379.2" y2="380.14" stroke="#242424" stroke-width="1.7" />
<text x="372.7" y="385.14" font-size="16" text-anchor="end" font-weight="normal" fill="#1f1f1f" >0.2</text>
<line x1="375" y1="339.78" x2="379.2" y2="339.78" stroke="#242424" stroke-width="1.7" />
<text x="372.7" y="344.78" font-size="16" text-anchor="end" font-weight="normal" fill="#1f1f1f" >0.4</text>
<line x1="375" y1="299.42" x2="379.2" y2="299.42" stroke="#242424" stroke-width="1.7" />
<text x="372.7" y="304.42" font-size="16" text-anchor="end" font-weight="normal" fill="#1f1f1f" >0.6</text>
<line x1="375" y1="259.06" x2="379.2" y2="259.06" stroke="#242424" stroke-width="1.7" />
<text x="372.7" y="264.06" font-size="16" text-anchor="end" font-weight="normal" fill="#1f1f1f" >0.8</text>
<line x1="376.6" y1="440.68" x2="379.2" y2="440.68" stroke="#242424" stroke-width="1.7" />
<line x1="376.6" y1="400.32" x2="379.2" y2="400.32" stroke="#242424" stroke-width="1.7" />
<line x1="376.6" y1="359.96" x2="379.2" y2="359.96" stroke="#242424" stroke-width="1.7" />
<line x1="376.6" y1="319.6" x2="379.2" y2="319.6" stroke="#242424" stroke-width="1.7" />
<line x1="376.6" y1="279.24" x2="379.2" y2="279.24" stroke="#242424" stroke-width="1.7" />
<line x1="395.9" y1="440.7" x2="395.9" y2="444.7" stroke="#242424" stroke-width="1.7" />
<text x="395.9" y="459.5" font-size="16" text-anchor="middle" font-weight="normal" fill="#1f1f1f" >0</text>
<line x1="429.68" y1="440.7" x2="429.68" y2="444.7" stroke="#242424" stroke-width="1.7" />
<text x="429.68" y="459.5" font-size="16" text-anchor="middle" font-weight="normal" fill="#1f1f1f" >1</text>
<line x1="463.46" y1="440.7" x2="463.46" y2="444.7" stroke="#242424" stroke-width="1.7" />
<text x="463.46" y="459.5" font-size="16" text-anchor="middle" font-weight="normal" fill="#1f1f1f" >2</text>
<line x1="497.24" y1="440.7" x2="497.24" y2="444.7" stroke="#242424" stroke-width="1.7" />
<text x="497.24" y="459.5" font-size="16" text-anchor="middle" font-weight="normal" fill="#1f1f1f" >3</text>
<line x1="531.02" y1="440.7" x2="531.02" y2="444.7" stroke="#242424" stroke-width="1.7" />
<text x="531.02" y="459.5" font-size="16" text-anchor="middle" font-weight="normal" fill="#1f1f1f" >4</text>
<line x1="564.8" y1="440.7" x2="564.8" y2="444.7" stroke="#242424" stroke-width="1.7" />
<text x="564.8" y="459.5" font-size="16" text-anchor="middle" font-weight="normal" fill="#1f1f1f" >5</text>
<line x1="598.58" y1="440.7" x2="598.58" y2="444.7" stroke="#242424" stroke-width="1.7" />
<text x="598.58" y="459.5" font-size="16" text-anchor="middle" font-weight="normal" fill="#1f1f1f" >6</text>
<text x="495.8" y="477.9" font-size="16.3" text-anchor="middle" font-weight="normal" fill="#1f1f1f" >Time (hour)</text>
<text x="331.3" y="271.3" font-size="23.8" text-anchor="start" font-weight="bold" fill="#000" >D</text>
<text transform="translate(343.3,393.6) rotate(-90)" font-size="16.5" fill="#1f1f1f">−ln(<tspan font-style="italic">C</tspan>/<tspan font-style="italic">C</tspan><tspan font-size="10" dy="4">0</tspan><tspan dy="-4" font-size="16.5">)</tspan></text>
<polygon points="395.9,415.5 391.4,423.5 400.4,423.5" fill="#1a7af0"/>
<polygon points="429.68,395.72 425.18,403.72 434.18,403.72" fill="#1a7af0"/>
<polygon points="463.46,377.97 458.96,385.97 467.96,385.97" fill="#1a7af0"/>
<polygon points="497.24,362.63 492.74,370.63 501.74,370.63" fill="#1a7af0"/>
<polygon points="531.02,345.07 526.52,353.07 535.52,353.07" fill="#1a7af0"/>
<polygon points="564.8,327.52 560.3,335.52 569.3,335.52" fill="#1a7af0"/>
<polygon points="598.58,314.6 594.08,322.6 603.08,322.6" fill="#1a7af0"/>
<circle cx="395.9" cy="420.5" r="3.6" fill="#fb4a4c"/>
<circle cx="429.68" cy="395.07" r="3.6" fill="#fb4a4c"/>
<circle cx="463.46" cy="374.09" r="3.6" fill="#fb4a4c"/>
<circle cx="497.24" cy="344.42" r="3.6" fill="#fb4a4c"/>
<circle cx="531.02" cy="321.62" r="3.6" fill="#fb4a4c"/>
<circle cx="564.8" cy="303.86" r="3.6" fill="#fb4a4c"/>
<circle cx="598.58" cy="281.26" r="3.6" fill="#fb4a4c"/>
<rect x="392.6" y="417.2" width="6.6" height="6.6" fill="#1fb01f"/>
<rect x="426.38" y="390.16" width="6.6" height="6.6" fill="#1fb01f"/>
<rect x="460.16" y="365.14" width="6.6" height="6.6" fill="#1fb01f"/>
<rect x="493.94" y="337.49" width="6.6" height="6.6" fill="#1fb01f"/>
<rect x="527.72" y="314.28" width="6.6" height="6.6" fill="#1fb01f"/>
<rect x="561.5" y="299.35" width="6.6" height="6.6" fill="#1fb01f"/>
<rect x="595.28" y="275.94" width="6.6" height="6.6" fill="#1fb01f"/>
<line x1="395.9" y1="418.89" x2="598.58" y2="318.59" stroke="#1414f5" stroke-width="2.1" />
<line x1="395.9" y1="419.89" x2="598.58" y2="280.25" stroke="#f01818" stroke-width="2.1" />
<line x1="395.9" y1="417.47" x2="598.58" y2="276.82" stroke="#0a7a0a" stroke-width="2.1" />
<circle cx="392.2" cy="276.8" r="3.6" fill="#fb4a4c"/>
<rect x="388.9" y="288.3" width="6.6" height="6.6" fill="#1fb01f"/>
<polygon points="426.2,421 421.7,429 430.7,429" fill="#1a7af0"/>
<text x="404.8" y="279.8" font-size="11.5" fill="#1f1f1f" textLength="170.2" lengthAdjust="spacingAndGlyphs" style="white-space:pre">Cu@hNCNC-pH7  <tspan font-style="italic">k</tspan> = 0.1156 hour<tspan font-size="7.5" dy="-4.5">−1</tspan></text>
<text x="404.8" y="294.3" font-size="11.5" fill="#1f1f1f" textLength="170.2" lengthAdjust="spacingAndGlyphs" style="white-space:pre">Cu/hNCNC-pH12  <tspan font-style="italic">k</tspan> = 0.1166 hour<tspan font-size="7.5" dy="-4.5">−1</tspan></text>
<text x="439.3" y="430" font-size="11.5" fill="#1f1f1f" textLength="171.3" lengthAdjust="spacingAndGlyphs" style="white-space:pre">Cu/hNCNC-pH7  <tspan font-style="italic">k</tspan> = 0.0834 hour<tspan font-size="7.5" dy="-4.5">−1</tspan></text>
<rect x="74.5" y="499.1" width="541.4" height="174.7" fill="none" stroke="#242424" stroke-width="1.7"/>
<line x1="70.3" y1="673.8" x2="74.5" y2="673.8" stroke="#242424" stroke-width="1.7" />
<text x="68.5" y="678.5" font-size="15.5" text-anchor="end" font-weight="normal" fill="#1f1f1f" >0</text>
<line x1="70.3" y1="642.06" x2="74.5" y2="642.06" stroke="#242424" stroke-width="1.7" />
<text x="68.5" y="646.76" font-size="15.5" text-anchor="end" font-weight="normal" fill="#1f1f1f" >20</text>
<line x1="70.3" y1="610.32" x2="74.5" y2="610.32" stroke="#242424" stroke-width="1.7" />
<text x="68.5" y="615.02" font-size="15.5" text-anchor="end" font-weight="normal" fill="#1f1f1f" >40</text>
<line x1="70.3" y1="578.58" x2="74.5" y2="578.58" stroke="#242424" stroke-width="1.7" />
<text x="68.5" y="583.28" font-size="15.5" text-anchor="end" font-weight="normal" fill="#1f1f1f" >60</text>
<line x1="70.3" y1="546.84" x2="74.5" y2="546.84" stroke="#242424" stroke-width="1.7" />
<text x="68.5" y="551.54" font-size="15.5" text-anchor="end" font-weight="normal" fill="#1f1f1f" >80</text>
<line x1="70.3" y1="515.1" x2="74.5" y2="515.1" stroke="#242424" stroke-width="1.7" />
<text x="68.5" y="519.8" font-size="15.5" text-anchor="end" font-weight="normal" fill="#1f1f1f" >100</text>
<line x1="71.9" y1="657.93" x2="74.5" y2="657.93" stroke="#242424" stroke-width="1.7" />
<line x1="71.9" y1="626.19" x2="74.5" y2="626.19" stroke="#242424" stroke-width="1.7" />
<line x1="71.9" y1="594.45" x2="74.5" y2="594.45" stroke="#242424" stroke-width="1.7" />
<line x1="71.9" y1="562.71" x2="74.5" y2="562.71" stroke="#242424" stroke-width="1.7" />
<line x1="71.9" y1="530.97" x2="74.5" y2="530.97" stroke="#242424" stroke-width="1.7" />
<line x1="71.9" y1="499.23" x2="74.5" y2="499.23" stroke="#242424" stroke-width="1.7" />
<line x1="615.9" y1="673.8" x2="620.1" y2="673.8" stroke="#242424" stroke-width="1.7" />
<text x="621.6" y="678" font-size="15.5" text-anchor="start" font-weight="normal" fill="#1f1f1f" >0</text>
<line x1="615.9" y1="642.06" x2="620.1" y2="642.06" stroke="#242424" stroke-width="1.7" />
<text x="621.6" y="646.26" font-size="15.5" text-anchor="start" font-weight="normal" fill="#1f1f1f" >1</text>
<line x1="615.9" y1="610.32" x2="620.1" y2="610.32" stroke="#242424" stroke-width="1.7" />
<text x="621.6" y="614.52" font-size="15.5" text-anchor="start" font-weight="normal" fill="#1f1f1f" >2</text>
<line x1="615.9" y1="578.58" x2="620.1" y2="578.58" stroke="#242424" stroke-width="1.7" />
<text x="621.6" y="582.78" font-size="15.5" text-anchor="start" font-weight="normal" fill="#1f1f1f" >3</text>
<line x1="615.9" y1="546.84" x2="620.1" y2="546.84" stroke="#242424" stroke-width="1.7" />
<text x="621.6" y="551.04" font-size="15.5" text-anchor="start" font-weight="normal" fill="#1f1f1f" >4</text>
<line x1="615.9" y1="515.1" x2="620.1" y2="515.1" stroke="#242424" stroke-width="1.7" />
<text x="621.6" y="519.3" font-size="15.5" text-anchor="start" font-weight="normal" fill="#1f1f1f" >5</text>
<line x1="615.9" y1="657.93" x2="618.4" y2="657.93" stroke="#242424" stroke-width="1.7" />
<line x1="615.9" y1="626.19" x2="618.4" y2="626.19" stroke="#242424" stroke-width="1.7" />
<line x1="615.9" y1="594.45" x2="618.4" y2="594.45" stroke="#242424" stroke-width="1.7" />
<line x1="615.9" y1="562.71" x2="618.4" y2="562.71" stroke="#242424" stroke-width="1.7" />
<line x1="615.9" y1="530.97" x2="618.4" y2="530.97" stroke="#242424" stroke-width="1.7" />
<line x1="74.5" y1="673.8" x2="74.5" y2="677.8" stroke="#242424" stroke-width="1.7" />
<text x="74.5" y="691.7" font-size="15.5" text-anchor="middle" font-weight="normal" fill="#1f1f1f" >0</text>
<line x1="180.6" y1="673.8" x2="180.6" y2="677.8" stroke="#242424" stroke-width="1.7" />
<text x="180.6" y="691.7" font-size="15.5" text-anchor="middle" font-weight="normal" fill="#1f1f1f" >10</text>
<line x1="286.7" y1="673.8" x2="286.7" y2="677.8" stroke="#242424" stroke-width="1.7" />
<text x="286.7" y="691.7" font-size="15.5" text-anchor="middle" font-weight="normal" fill="#1f1f1f" >20</text>
<line x1="392.8" y1="673.8" x2="392.8" y2="677.8" stroke="#242424" stroke-width="1.7" />
<text x="392.8" y="691.7" font-size="15.5" text-anchor="middle" font-weight="normal" fill="#1f1f1f" >30</text>
<line x1="498.9" y1="673.8" x2="498.9" y2="677.8" stroke="#242424" stroke-width="1.7" />
<text x="498.9" y="691.7" font-size="15.5" text-anchor="middle" font-weight="normal" fill="#1f1f1f" >40</text>
<line x1="605" y1="673.8" x2="605" y2="677.8" stroke="#242424" stroke-width="1.7" />
<text x="605" y="691.7" font-size="15.5" text-anchor="middle" font-weight="normal" fill="#1f1f1f" >50</text>
<text x="345.1" y="709.3" font-size="15.5" text-anchor="middle" fill="#1f1f1f">Cycle number (<tspan font-style="italic">n</tspan>)</text>
<text x="16" y="512.3" font-size="25" text-anchor="start" font-weight="bold" fill="#000" >E</text>
<text transform="translate(30,623.6) rotate(-90)" font-size="16" fill="#1f1f1f">FE<tspan font-size="9.5" dy="6.8">NH<tspan font-size="7" dy="3">3</tspan></tspan><tspan dy="-9.8" dx="-2" font-size="16"> (%)</tspan></text>
<text transform="translate(650.8,680.4) rotate(-90)" font-size="15" fill="#1f1f1f" textLength="18.5" lengthAdjust="spacingAndGlyphs">NH</text>
<text transform="translate(655.3,660.5) rotate(-90)" font-size="10.5" fill="#1f1f1f" textLength="4.7" lengthAdjust="spacingAndGlyphs">3</text>
<text transform="translate(650.8,653.4) rotate(-90)" font-size="15" fill="#1f1f1f" textLength="24.5" lengthAdjust="spacingAndGlyphs">yield</text>
<text transform="translate(650.8,619.6) rotate(-90)" font-size="15" fill="#1f1f1f" textLength="22.3" lengthAdjust="spacingAndGlyphs">rate</text>
<text transform="translate(650.8,593.4) rotate(-90)" font-size="15" fill="#1f1f1f" textLength="28.8" lengthAdjust="spacingAndGlyphs">(mol</text>
<text transform="translate(650.8,557) rotate(-90)" font-size="15" fill="#1f1f1f" textLength="29" lengthAdjust="spacingAndGlyphs">hour</text>
<text transform="translate(642.5,526) rotate(-90)" font-size="10" fill="#1f1f1f" textLength="8.7" lengthAdjust="spacingAndGlyphs">−1</text>
<text transform="translate(650.8,512.5) rotate(-90)" font-size="15" fill="#1f1f1f" textLength="8" lengthAdjust="spacingAndGlyphs">g</text>
<text transform="translate(642.5,502.5) rotate(-90)" font-size="10" fill="#1f1f1f" textLength="8.5" lengthAdjust="spacingAndGlyphs">−1</text>
<text transform="translate(650.8,492.5) rotate(-90)" font-size="15" fill="#1f1f1f" textLength="4.8" lengthAdjust="spacingAndGlyphs">)</text>
<defs><linearGradient id="gr" x1="0" y1="0" x2="0" y2="1"><stop offset="0" stop-color="#ef474b"/><stop offset="0.1" stop-color="#f05256"/><stop offset="0.4" stop-color="#f59fa1"/><stop offset="0.65" stop-color="#f9c9ca"/><stop offset="0.85" stop-color="#f9d3d3"/><stop offset="1" stop-color="#fbdfdf"/></linearGradient><linearGradient id="gb" x1="0" y1="0" x2="0" y2="1"><stop offset="0" stop-color="#1a6ee2"/><stop offset="0.1" stop-color="#2475e4"/><stop offset="0.4" stop-color="#80aeed"/><stop offset="0.65" stop-color="#bad2f4"/><stop offset="0.85" stop-color="#cbdcf4"/><stop offset="1" stop-color="#d9e5f6"/></linearGradient></defs>
<rect x="81.71" y="547.2" width="3.5" height="125.9" fill="url(#gr)"/>
<rect x="85.21" y="551.7" width="3.4" height="121.4" fill="url(#gb)"/>
<rect x="92.32" y="547.7" width="3.5" height="125.4" fill="url(#gr)"/>
<rect x="95.82" y="556.3" width="3.4" height="116.8" fill="url(#gb)"/>
<rect x="102.93" y="548.3" width="3.5" height="124.8" fill="url(#gr)"/>
<rect x="106.43" y="562.8" width="3.4" height="110.3" fill="url(#gb)"/>
<rect x="113.54" y="548.6" width="3.5" height="124.5" fill="url(#gr)"/>
<rect x="117.04" y="564.8" width="3.4" height="108.3" fill="url(#gb)"/>
<rect x="124.15" y="549.2" width="3.5" height="123.9" fill="url(#gr)"/>
<rect x="127.65" y="568.6" width="3.4" height="104.5" fill="url(#gb)"/>
<rect x="134.76" y="545" width="3.5" height="128.1" fill="url(#gr)"/>
<rect x="138.26" y="571.4" width="3.4" height="101.7" fill="url(#gb)"/>
<rect x="145.37" y="548.6" width="3.5" height="124.5" fill="url(#gr)"/>
<rect x="148.87" y="568.1" width="3.4" height="105" fill="url(#gb)"/>
<rect x="155.98" y="548.8" width="3.5" height="124.3" fill="url(#gr)"/>
<rect x="159.48" y="575.4" width="3.4" height="97.7" fill="url(#gb)"/>
<rect x="166.59" y="550.3" width="3.5" height="122.8" fill="url(#gr)"/>
<rect x="170.09" y="576.3" width="3.4" height="96.8" fill="url(#gb)"/>
<rect x="177.2" y="552.8" width="3.5" height="120.3" fill="url(#gr)"/>
<rect x="180.7" y="580.1" width="3.4" height="93" fill="url(#gb)"/>
<rect x="187.81" y="550.1" width="3.5" height="123" fill="url(#gr)"/>
<rect x="191.31" y="583.5" width="3.4" height="89.6" fill="url(#gb)"/>
<rect x="198.42" y="549" width="3.5" height="124.1" fill="url(#gr)"/>
<rect x="201.92" y="578.6" width="3.4" height="94.5" fill="url(#gb)"/>
<rect x="209.03" y="558.1" width="3.5" height="115" fill="url(#gr)"/>
<rect x="212.53" y="581.9" width="3.4" height="91.2" fill="url(#gb)"/>
<rect x="219.64" y="547.4" width="3.5" height="125.7" fill="url(#gr)"/>
<rect x="223.14" y="578.6" width="3.4" height="94.5" fill="url(#gb)"/>
<rect x="230.25" y="553.5" width="3.5" height="119.6" fill="url(#gr)"/>
<rect x="233.75" y="585" width="3.4" height="88.1" fill="url(#gb)"/>
<rect x="240.86" y="552.5" width="3.5" height="120.6" fill="url(#gr)"/>
<rect x="244.36" y="583.2" width="3.4" height="89.9" fill="url(#gb)"/>
<rect x="251.47" y="551" width="3.5" height="122.1" fill="url(#gr)"/>
<rect x="254.97" y="588.3" width="3.4" height="84.8" fill="url(#gb)"/>
<rect x="262.08" y="552.3" width="3.5" height="120.8" fill="url(#gr)"/>
<rect x="265.58" y="589.9" width="3.4" height="83.2" fill="url(#gb)"/>
<rect x="272.69" y="551.9" width="3.5" height="121.2" fill="url(#gr)"/>
<rect x="276.19" y="586.5" width="3.4" height="86.6" fill="url(#gb)"/>
<rect x="283.3" y="547.9" width="3.5" height="125.2" fill="url(#gr)"/>
<rect x="286.8" y="588.6" width="3.4" height="84.5" fill="url(#gb)"/>
<rect x="293.91" y="550.8" width="3.5" height="122.3" fill="url(#gr)"/>
<rect x="297.41" y="587.7" width="3.4" height="85.4" fill="url(#gb)"/>
<rect x="304.52" y="559.7" width="3.5" height="113.4" fill="url(#gr)"/>
<rect x="308.02" y="591" width="3.4" height="82.1" fill="url(#gb)"/>
<rect x="315.13" y="551" width="3.5" height="122.1" fill="url(#gr)"/>
<rect x="318.63" y="590.5" width="3.4" height="82.6" fill="url(#gb)"/>
<rect x="325.74" y="547" width="3.5" height="126.1" fill="url(#gr)"/>
<rect x="329.24" y="588.1" width="3.4" height="85" fill="url(#gb)"/>
<rect x="336.35" y="547.9" width="3.5" height="125.2" fill="url(#gr)"/>
<rect x="339.85" y="584.1" width="3.4" height="89" fill="url(#gb)"/>
<rect x="346.96" y="547.9" width="3.5" height="125.2" fill="url(#gr)"/>
<rect x="350.46" y="588.3" width="3.4" height="84.8" fill="url(#gb)"/>
<rect x="357.57" y="556.3" width="3.5" height="116.8" fill="url(#gr)"/>
<rect x="361.07" y="592.3" width="3.4" height="80.8" fill="url(#gb)"/>
<rect x="368.18" y="551.4" width="3.5" height="121.7" fill="url(#gr)"/>
<rect x="371.68" y="591.7" width="3.4" height="81.4" fill="url(#gb)"/>
<rect x="378.79" y="555.9" width="3.5" height="117.2" fill="url(#gr)"/>
<rect x="382.29" y="590.5" width="3.4" height="82.6" fill="url(#gb)"/>
<rect x="389.4" y="559.7" width="3.5" height="113.4" fill="url(#gr)"/>
<rect x="392.9" y="595.5" width="3.4" height="77.6" fill="url(#gb)"/>
<rect x="400.01" y="556.1" width="3.5" height="117" fill="url(#gr)"/>
<rect x="403.51" y="597.8" width="3.4" height="75.3" fill="url(#gb)"/>
<rect x="410.62" y="551.7" width="3.5" height="121.4" fill="url(#gr)"/>
<rect x="414.12" y="595" width="3.4" height="78.1" fill="url(#gb)"/>
<rect x="421.23" y="552.8" width="3.5" height="120.3" fill="url(#gr)"/>
<rect x="424.73" y="587" width="3.4" height="86.1" fill="url(#gb)"/>
<rect x="431.84" y="555" width="3.5" height="118.1" fill="url(#gr)"/>
<rect x="435.34" y="589.2" width="3.4" height="83.9" fill="url(#gb)"/>
<rect x="442.45" y="555.9" width="3.5" height="117.2" fill="url(#gr)"/>
<rect x="445.95" y="593" width="3.4" height="80.1" fill="url(#gb)"/>
<rect x="453.06" y="556.3" width="3.5" height="116.8" fill="url(#gr)"/>
<rect x="456.56" y="592.5" width="3.4" height="80.6" fill="url(#gb)"/>
<rect x="463.67" y="557.2" width="3.5" height="115.9" fill="url(#gr)"/>
<rect x="467.17" y="595.8" width="3.4" height="77.3" fill="url(#gb)"/>
<rect x="474.28" y="551.7" width="3.5" height="121.4" fill="url(#gr)"/>
<rect x="477.78" y="591.2" width="3.4" height="81.9" fill="url(#gb)"/>
<rect x="484.89" y="555.4" width="3.5" height="117.7" fill="url(#gr)"/>
<rect x="488.39" y="594" width="3.4" height="79.1" fill="url(#gb)"/>
<rect x="495.5" y="557.7" width="3.5" height="115.4" fill="url(#gr)"/>
<rect x="499" y="594.3" width="3.4" height="78.8" fill="url(#gb)"/>
<rect x="506.11" y="555.4" width="3.5" height="117.7" fill="url(#gr)"/>
<rect x="509.61" y="598.4" width="3.4" height="74.7" fill="url(#gb)"/>
<rect x="516.72" y="553.5" width="3.5" height="119.6" fill="url(#gr)"/>
<rect x="520.22" y="601.8" width="3.4" height="71.3" fill="url(#gb)"/>
<rect x="527.33" y="551.9" width="3.5" height="121.2" fill="url(#gr)"/>
<rect x="530.83" y="603.2" width="3.4" height="69.9" fill="url(#gb)"/>
<rect x="537.94" y="552.1" width="3.5" height="121" fill="url(#gr)"/>
<rect x="541.44" y="601.8" width="3.4" height="71.3" fill="url(#gb)"/>
<rect x="548.55" y="553.9" width="3.5" height="119.2" fill="url(#gr)"/>
<rect x="552.05" y="599" width="3.4" height="74.1" fill="url(#gb)"/>
<rect x="559.16" y="553.5" width="3.5" height="119.6" fill="url(#gr)"/>
<rect x="562.66" y="598.7" width="3.4" height="74.4" fill="url(#gb)"/>
<rect x="569.77" y="553.7" width="3.5" height="119.4" fill="url(#gr)"/>
<rect x="573.27" y="602.2" width="3.4" height="70.9" fill="url(#gb)"/>
<rect x="580.38" y="560.1" width="3.5" height="113" fill="url(#gr)"/>
<rect x="583.88" y="601.1" width="3.4" height="72" fill="url(#gb)"/>
<rect x="590.99" y="556.8" width="3.5" height="116.3" fill="url(#gr)"/>
<rect x="594.49" y="599" width="3.4" height="74.1" fill="url(#gb)"/>
<rect x="601.6" y="557.4" width="3.5" height="115.7" fill="url(#gr)"/>
<rect x="605.1" y="602.9" width="3.4" height="70.2" fill="url(#gb)"/>
<polyline points="85.11,517.2 95.72,516.8 106.33,516.5 116.94,514.6 127.55,513.2 138.16,517.9 148.77,517.7 159.38,521.4 169.99,518.6 180.6,522.6 191.21,522.3 201.82,521.7 212.43,520.1 223.04,519.2 233.65,520.5 244.26,519.2 254.87,521 265.48,522.6 276.09,522.3 286.7,520.5 297.31,522.3 307.92,520.5 318.53,522.3 329.14,524.1 339.75,523.2 350.36,524.1 360.97,526.8 371.58,522.3 382.19,522.6 392.8,525.9 403.41,523.2 414.02,526.3 424.63,521.4 435.24,525.5 445.85,522.3 456.46,522.6 467.07,525.5 477.68,522.6 488.29,524.1 498.9,522.8 509.51,526.8 520.12,521.9 530.73,527.4 541.34,525 551.95,522.6 562.56,528.3 573.17,525.4 583.78,525.5 594.39,525.5 605,526.8" fill="none" stroke="#1a7af0" stroke-width="1.9" stroke-linejoin="round"/>
<polygon points="85.11,513.4 81.81,519.4 88.41,519.4" fill="#1a7af0"/>
<polygon points="95.72,513 92.42,519 99.02,519" fill="#1a7af0"/>
<polygon points="106.33,512.7 103.03,518.7 109.63,518.7" fill="#1a7af0"/>
<polygon points="116.94,510.8 113.64,516.8 120.24,516.8" fill="#1a7af0"/>
<polygon points="127.55,509.4 124.25,515.4 130.85,515.4" fill="#1a7af0"/>
<polygon points="138.16,514.1 134.86,520.1 141.46,520.1" fill="#1a7af0"/>
<polygon points="148.77,513.9 145.47,519.9 152.07,519.9" fill="#1a7af0"/>
<polygon points="159.38,517.6 156.08,523.6 162.68,523.6" fill="#1a7af0"/>
<polygon points="169.99,514.8 166.69,520.8 173.29,520.8" fill="#1a7af0"/>
<polygon points="180.6,518.8 177.3,524.8 183.9,524.8" fill="#1a7af0"/>
<polygon points="191.21,518.5 187.91,524.5 194.51,524.5" fill="#1a7af0"/>
<polygon points="201.82,517.9 198.52,523.9 205.12,523.9" fill="#1a7af0"/>
<polygon points="212.43,516.3 209.13,522.3 215.73,522.3" fill="#1a7af0"/>
<polygon points="223.04,515.4 219.74,521.4 226.34,521.4" fill="#1a7af0"/>
<polygon points="233.65,516.7 230.35,522.7 236.95,522.7" fill="#1a7af0"/>
<polygon points="244.26,515.4 240.96,521.4 247.56,521.4" fill="#1a7af0"/>
<polygon points="254.87,517.2 251.57,523.2 258.17,523.2" fill="#1a7af0"/>
<polygon points="265.48,518.8 262.18,524.8 268.78,524.8" fill="#1a7af0"/>
<polygon points="276.09,518.5 272.79,524.5 279.39,524.5" fill="#1a7af0"/>
<polygon points="286.7,516.7 283.4,522.7 290,522.7" fill="#1a7af0"/>
<polygon points="297.31,518.5 294.01,524.5 300.61,524.5" fill="#1a7af0"/>
<polygon points="307.92,516.7 304.62,522.7 311.22,522.7" fill="#1a7af0"/>
<polygon points="318.53,518.5 315.23,524.5 321.83,524.5" fill="#1a7af0"/>
<polygon points="329.14,520.3 325.84,526.3 332.44,526.3" fill="#1a7af0"/>
<polygon points="339.75,519.4 336.45,525.4 343.05,525.4" fill="#1a7af0"/>
<polygon points="350.36,520.3 347.06,526.3 353.66,526.3" fill="#1a7af0"/>
<polygon points="360.97,523 357.67,529 364.27,529" fill="#1a7af0"/>
<polygon points="371.58,518.5 368.28,524.5 374.88,524.5" fill="#1a7af0"/>
<polygon points="382.19,518.8 378.89,524.8 385.49,524.8" fill="#1a7af0"/>
<polygon points="392.8,522.1 389.5,528.1 396.1,528.1" fill="#1a7af0"/>
<polygon points="403.41,519.4 400.11,525.4 406.71,525.4" fill="#1a7af0"/>
<polygon points="414.02,522.5 410.72,528.5 417.32,528.5" fill="#1a7af0"/>
<polygon points="424.63,517.6 421.33,523.6 427.93,523.6" fill="#1a7af0"/>
<polygon points="435.24,521.7 431.94,527.7 438.54,527.7" fill="#1a7af0"/>
<polygon points="445.85,518.5 442.55,524.5 449.15,524.5" fill="#1a7af0"/>
<polygon points="456.46,518.8 453.16,524.8 459.76,524.8" fill="#1a7af0"/>
<polygon points="467.07,521.7 463.77,527.7 470.37,527.7" fill="#1a7af0"/>
<polygon points="477.68,518.8 474.38,524.8 480.98,524.8" fill="#1a7af0"/>
<polygon points="488.29,520.3 484.99,526.3 491.59,526.3" fill="#1a7af0"/>
<polygon points="498.9,519 495.6,525 502.2,525" fill="#1a7af0"/>
<polygon points="509.51,523 506.21,529 512.81,529" fill="#1a7af0"/>
<polygon points="520.12,518.1 516.82,524.1 523.42,524.1" fill="#1a7af0"/>
<polygon points="530.73,523.6 527.43,529.6 534.03,529.6" fill="#1a7af0"/>
<polygon points="541.34,521.2 538.04,527.2 544.64,527.2" fill="#1a7af0"/>
<polygon points="551.95,518.8 548.65,524.8 555.25,524.8" fill="#1a7af0"/>
<polygon points="562.56,524.5 559.26,530.5 565.86,530.5" fill="#1a7af0"/>
<polygon points="573.17,521.6 569.87,527.6 576.47,527.6" fill="#1a7af0"/>
<polygon points="583.78,521.7 580.48,527.7 587.08,527.7" fill="#1a7af0"/>
<polygon points="594.39,521.7 591.09,527.7 597.69,527.7" fill="#1a7af0"/>
<polygon points="605,523 601.7,529 608.3,529" fill="#1a7af0"/>
<polyline points="85.11,516.5 95.72,516.6 106.33,515 116.94,517.2 127.55,517.4 138.16,516.5 148.77,512.6 159.38,516.8 169.99,519.5 180.6,511.4 191.21,519.5 201.82,514.1 212.43,519.2 223.04,514.3 233.65,513.7 244.26,518.6 254.87,515.4 265.48,513.5 276.09,518.1 286.7,515.9 297.31,519.5 307.92,519.5 318.53,517.7 329.14,522.8 339.75,519.5 350.36,521 360.97,517.2 371.58,519.9 382.19,518.1 392.8,517.5 403.41,519 414.02,521.7 424.63,518.1 435.24,518.6 445.85,518.1 456.46,517.4 467.07,517.2 477.68,518.1 488.29,515 498.9,518.6 509.51,518.6 520.12,518.1 530.73,517.4 541.34,519.2 551.95,519.9 562.56,519.5 573.17,518.6 583.78,517.7 594.39,517.2 605,518.6" fill="none" stroke="#fb4a4c" stroke-width="1.9" stroke-linejoin="round"/>
<circle cx="85.11" cy="516.5" r="2.9" fill="#fb4a4c"/>
<circle cx="95.72" cy="516.6" r="2.9" fill="#fb4a4c"/>
<circle cx="106.33" cy="515" r="2.9" fill="#fb4a4c"/>
<circle cx="116.94" cy="517.2" r="2.9" fill="#fb4a4c"/>
<circle cx="127.55" cy="517.4" r="2.9" fill="#fb4a4c"/>
<circle cx="138.16" cy="516.5" r="2.9" fill="#fb4a4c"/>
<circle cx="148.77" cy="512.6" r="2.9" fill="#fb4a4c"/>
<circle cx="159.38" cy="516.8" r="2.9" fill="#fb4a4c"/>
<circle cx="169.99" cy="519.5" r="2.9" fill="#fb4a4c"/>
<circle cx="180.6" cy="511.4" r="2.9" fill="#fb4a4c"/>
<circle cx="191.21" cy="519.5" r="2.9" fill="#fb4a4c"/>
<circle cx="201.82" cy="514.1" r="2.9" fill="#fb4a4c"/>
<circle cx="212.43" cy="519.2" r="2.9" fill="#fb4a4c"/>
<circle cx="223.04" cy="514.3" r="2.9" fill="#fb4a4c"/>
<circle cx="233.65" cy="513.7" r="2.9" fill="#fb4a4c"/>
<circle cx="244.26" cy="518.6" r="2.9" fill="#fb4a4c"/>
<circle cx="254.87" cy="515.4" r="2.9" fill="#fb4a4c"/>
<circle cx="265.48" cy="513.5" r="2.9" fill="#fb4a4c"/>
<circle cx="276.09" cy="518.1" r="2.9" fill="#fb4a4c"/>
<circle cx="286.7" cy="515.9" r="2.9" fill="#fb4a4c"/>
<circle cx="297.31" cy="519.5" r="2.9" fill="#fb4a4c"/>
<circle cx="307.92" cy="519.5" r="2.9" fill="#fb4a4c"/>
<circle cx="318.53" cy="517.7" r="2.9" fill="#fb4a4c"/>
<circle cx="329.14" cy="522.8" r="2.9" fill="#fb4a4c"/>
<circle cx="339.75" cy="519.5" r="2.9" fill="#fb4a4c"/>
<circle cx="350.36" cy="521" r="2.9" fill="#fb4a4c"/>
<circle cx="360.97" cy="517.2" r="2.9" fill="#fb4a4c"/>
<circle cx="371.58" cy="519.9" r="2.9" fill="#fb4a4c"/>
<circle cx="382.19" cy="518.1" r="2.9" fill="#fb4a4c"/>
<circle cx="392.8" cy="517.5" r="2.9" fill="#fb4a4c"/>
<circle cx="403.41" cy="519" r="2.9" fill="#fb4a4c"/>
<circle cx="414.02" cy="521.7" r="2.9" fill="#fb4a4c"/>
<circle cx="424.63" cy="518.1" r="2.9" fill="#fb4a4c"/>
<circle cx="435.24" cy="518.6" r="2.9" fill="#fb4a4c"/>
<circle cx="445.85" cy="518.1" r="2.9" fill="#fb4a4c"/>
<circle cx="456.46" cy="517.4" r="2.9" fill="#fb4a4c"/>
<circle cx="467.07" cy="517.2" r="2.9" fill="#fb4a4c"/>
<circle cx="477.68" cy="518.1" r="2.9" fill="#fb4a4c"/>
<circle cx="488.29" cy="515" r="2.9" fill="#fb4a4c"/>
<circle cx="498.9" cy="518.6" r="2.9" fill="#fb4a4c"/>
<circle cx="509.51" cy="518.6" r="2.9" fill="#fb4a4c"/>
<circle cx="520.12" cy="518.1" r="2.9" fill="#fb4a4c"/>
<circle cx="530.73" cy="517.4" r="2.9" fill="#fb4a4c"/>
<circle cx="541.34" cy="519.2" r="2.9" fill="#fb4a4c"/>
<circle cx="551.95" cy="519.9" r="2.9" fill="#fb4a4c"/>
<circle cx="562.56" cy="519.5" r="2.9" fill="#fb4a4c"/>
<circle cx="573.17" cy="518.6" r="2.9" fill="#fb4a4c"/>
<circle cx="583.78" cy="517.7" r="2.9" fill="#fb4a4c"/>
<circle cx="594.39" cy="517.2" r="2.9" fill="#fb4a4c"/>
<circle cx="605" cy="518.6" r="2.9" fill="#fb4a4c"/>
<line x1="95.8" y1="505.4" x2="83" y2="505.4" stroke="#000" stroke-width="1.4" />
<polygon points="79,505.4 87.3,502.5 86.3,505.4 87.3,508.3" fill="#000"/>
<line x1="595" y1="550.1" x2="607" y2="550.1" stroke="#000" stroke-width="1.4" />
<polygon points="611,550.1 602.7,547.2 603.7,550.1 602.7,553" fill="#000"/>
</g>
</svg>
</body></html>
